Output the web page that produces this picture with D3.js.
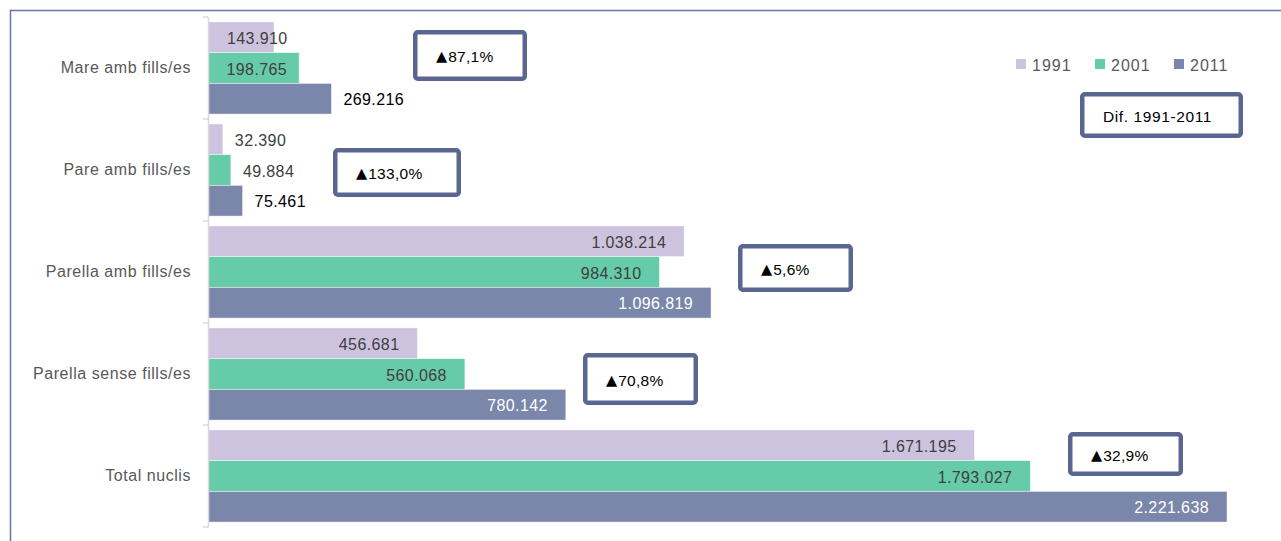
<!DOCTYPE html>
<html>
<head>
<meta charset="utf-8">
<script src="https://cdn.jsdelivr.net/npm/d3@7"></script>
<style>
  html, body { margin: 0; padding: 0; background: #fff; }
  svg { display: block; }
  text { font-family: "Liberation Sans", Arial, sans-serif; }
</style>
</head>
<body>
<svg id="chart" width="1281" height="541"></svg>
<script>
// ---------- DATA ----------
const categories = ["Mare amb fills/es", "Pare amb fills/es", "Parella amb fills/es", "Parella sense fills/es", "Total nuclis"];
const years = ["1991", "2001", "2011"];
const values1991 = [143910, 32390, 1038214, 456681, 1671195];
const values2001 = [198765, 49884, 984310, 560068, 1793027];
const values2011 = [269216, 75461, 1096819, 780142, 2221638];
const boxTitle = "Dif. 1991-2011";

// ---------- SETUP ----------
const seriesValues = [values1991, values2001, values2011];
const colors = ["#cdc3de", "#66cba8", "#7a87aa"];
const labelInside = ["#404040", "#404040", "#ffffff"];
const labelOutside = ["#404040", "#404040", "#000000"];
const minInsideWidth = [0, 0, 200]; // minimum bar width (px) for inside labels per series

const locale = d3.formatLocale({ decimal: ",", thousands: ".", grouping: [3], currency: ["", "€"] });
const fmtNum = locale.format(",d");
const fmtPct = locale.format(",.1f");

const svg = d3.select("#chart");

// outer frame (top & left)
svg.append("path")
  .attr("d", "M10.5,541 L10.5,10.5 L1281,10.5")
  .attr("fill", "none").attr("stroke", "#6676a6").attr("stroke-width", 1.5);

const x = d3.scaleLinear().domain([0, d3.max(values2011)]).range([208, 1227]);
const y0 = d3.scaleBand().domain(categories).range([17, 527]).padding(0);
const y1 = d3.scaleBand().domain(years).range([0, y0.bandwidth()]).paddingInner(0).paddingOuter(0.16);

// rows for bars
const rows = [];
categories.forEach((c, i) => {
  years.forEach((yr, j) => rows.push({ cat: c, year: yr, s: j, v: seriesValues[j][i] }));
});

// bars
svg.append("g").selectAll("rect").data(rows).join("rect")
  .attr("x", x(0))
  .attr("y", d => y0(d.cat) + y1(d.year))
  .attr("width", d => x(d.v) - x(0))
  .attr("height", y1.bandwidth())
  .attr("fill", d => colors[d.s])
  .attr("stroke", "#ffffff").attr("stroke-opacity", 0.6).attr("stroke-width", 0.8);

// axis
const axis = d3.axisLeft(y0).tickSize(0).tickPadding(17).tickSizeOuter(0);
const ga = svg.append("g").attr("transform", `translate(${x(0)},0)`).call(axis);
ga.select(".domain").attr("stroke", "#d9d9d9").attr("stroke-width", 1.5);
ga.selectAll(".tick text").attr("font-size", 16).attr("fill", "#595959")
  .attr("font-family", "'Liberation Sans', Arial, sans-serif").attr("letter-spacing", 0.55);
// boundary ticks
const bounds = categories.map(c => y0(c)).concat([y0.range()[1]]);
svg.append("g").selectAll("line").data(bounds).join("line")
  .attr("x1", x(0) - 5).attr("x2", x(0))
  .attr("y1", d => d).attr("y2", d => d)
  .attr("stroke", "#d9d9d9").attr("stroke-width", 1.5);

// value labels
const labels = svg.append("g").selectAll("text").data(rows).join("text")
  .attr("font-size", 16).attr("letter-spacing", 0.4)
  .attr("dominant-baseline", "central")
  .attr("y", d => y0(d.cat) + y1(d.year) + y1.bandwidth() / 2 + 1)
  .text(d => fmtNum(d.v));
labels.each(function (d) {
  const t = d3.select(this);
  const w = this.getComputedTextLength();
  const barW = x(d.v) - x(0);
  if (barW >= Math.max(w + 30, minInsideWidth[d.s])) {
    const pad = barW > 200 ? 18 : 12;
    t.attr("text-anchor", "end").attr("x", x(d.v) - pad).attr("fill", labelInside[d.s]);
  } else if (barW > w && barW >= minInsideWidth[d.s]) {
    t.attr("text-anchor", "start").attr("x", x(0) + 19).attr("fill", labelInside[d.s]);
  } else {
    t.attr("text-anchor", "start").attr("x", x(d.v) + 12).attr("fill", labelOutside[d.s]);
  }
});

// legend
const legend = svg.append("g");
years.forEach((yr, j) => {
  const lx = 1016 + j * 79;
  legend.append("rect").attr("x", lx).attr("y", 59).attr("width", 10).attr("height", 10).attr("fill", colors[j]);
  legend.append("text").attr("x", lx + 16).attr("y", 71).attr("font-size", 16)
    .attr("letter-spacing", 1).attr("fill", "#595959").text(yr);
});

// annotation boxes (percent change 1991 -> 2011)
const boxLayout = [
  { x: 413, y: 30, w: 114, h: 51 },
  { x: 333, y: 148, w: 128, h: 49 },
  { x: 738, y: 244, w: 115, h: 48 },
  { x: 583, y: 353, w: 115, h: 52 },
  { x: 1068, y: 432, w: 115, h: 44 }
];
const boxes = categories.map((c, i) => {
  const pct = (values2011[i] / values1991[i] - 1) * 100;
  return Object.assign({ arrow: pct >= 0 ? "▲" : "▼", text: fmtPct(pct) + "%" }, boxLayout[i]);
});
boxes.push({ arrow: "", text: boxTitle, x: 1080, y: 92, w: 163, h: 46 });

const bg = svg.append("g").selectAll("g").data(boxes).join("g");
bg.append("rect")
  .attr("x", d => d.x + 2.25).attr("y", d => d.y + 2.25)
  .attr("width", d => d.w - 4.5).attr("height", d => d.h - 4.5)
  .attr("rx", 2.5).attr("fill", "#fff")
  .attr("stroke", "#5b6690").attr("stroke-width", 4.5);
const bt = bg.append("text")
  .attr("x", d => d.x + 23).attr("y", d => d.y + d.h / 2 + 0.5)
  .attr("dominant-baseline", "central")
  .attr("font-size", 15.5).attr("fill", "#000");
bt.append("tspan")
  .attr("font-family", "'DejaVu Sans', sans-serif").attr("font-size", 14.5)
  .text(d => d.arrow);
bt.append("tspan")
  .attr("dx", d => d.arrow ? 1 : 0)
  .attr("letter-spacing", d => d.arrow ? 0.3 : 0.6)
  .text(d => d.text);
</script>
</body>
</html>
